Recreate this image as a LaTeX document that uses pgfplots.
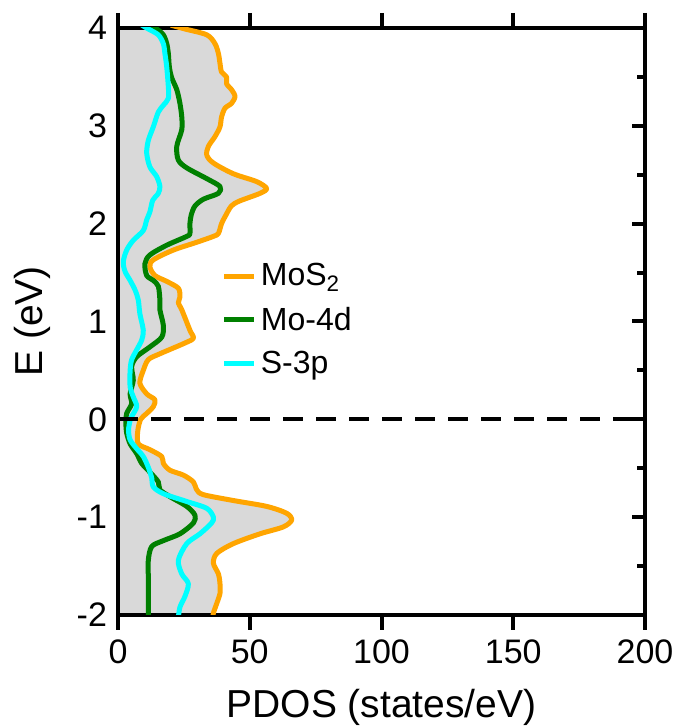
\documentclass[border=0pt]{standalone}
\usepackage{fontspec}
\setmainfont{Liberation Sans}
\usepackage{pgfplots}
\usepackage{pgfplotstable}
\usepgfplotslibrary{fillbetween}
\pgfplotsset{compat=1.18}
\definecolor{dosorange}{RGB}{255,165,0}
\definecolor{dosgreen}{RGB}{0,128,0}
\definecolor{doscyan}{RGB}{0,255,255}

\pgfplotstableread{
x E
36.0 -2.03
36.2 -1.98
37.5 -1.88
38.7 -1.78
38.7 -1.68
38.1 -1.58
36.2 -1.47
37.5 -1.37
43.8 -1.27
53.9 -1.17
62.7 -1.10
65.9 -1.03
64.0 -0.96
56.4 -0.89
43.8 -0.83
32.4 -0.77
29.9 -0.72
28.6 -0.64
24.8 -0.57
19.7 -0.52
17.2 -0.45
16.6 -0.38
12.1 -0.31
7.7 -0.25
7.5 -0.12
8.6 0.00
10.9 0.06
13.4 0.13
14.0 0.20
10.9 0.26
8.3 0.37
9.6 0.50
11.5 0.61
15.9 0.67
25.4 0.78
28.6 0.83
27.3 0.91
24.2 1.12
22.9 1.19
23.5 1.25
22.9 1.34
18.5 1.41
14.0 1.47
12.1 1.56
13.4 1.63
21.0 1.73
29.9 1.81
36.2 1.87
38.1 1.90
39.3 2.00
41.0 2.09
43.0 2.18
46.0 2.23
53.9 2.31
56.4 2.36
52.6 2.43
43.8 2.51
36.2 2.62
33.7 2.70
34.3 2.79
36.8 2.89
38.7 2.99
39.3 3.09
40.6 3.18
43.1 3.23
44.4 3.30
43.1 3.37
41.2 3.43
41.2 3.50
39.3 3.55
38.7 3.64
38.1 3.74
36.8 3.84
33.7 3.93
25.4 3.99
20.0 4.03
}\mos

\pgfplotstableread{
x E
11.5 -2.03
11.5 -1.81
11.5 -1.61
11.5 -1.44
12.8 -1.30
17.2 -1.24
23.5 -1.17
28.6 -1.06
29.2 -0.98
26.1 -0.89
19.7 -0.79
15.9 -0.72
15.3 -0.64
12.1 -0.54
9.0 -0.45
7.1 -0.35
4.6 -0.25
3.3 -0.14
3.0 -0.05
3.3 0.06
5.2 0.16
4.6 0.26
5.8 0.40
5.2 0.54
7.1 0.64
12.1 0.74
16.6 0.84
17.2 0.96
15.9 1.12
15.9 1.22
15.3 1.36
13.4 1.42
10.9 1.47
10.2 1.59
12.1 1.68
18.5 1.78
26.1 1.87
27.3 1.90
27.3 2.00
27.8 2.09
29.2 2.18
32.4 2.25
38.1 2.31
38.7 2.38
33.7 2.46
26.1 2.57
22.9 2.65
22.3 2.79
24.2 2.96
24.2 3.09
23.5 3.23
22.3 3.37
20.4 3.49
19.5 3.60
19.1 3.74
18.5 3.84
17.2 3.93
14.7 3.99
12.0 4.03
}\mod

\pgfplotstableread{
x E
22.9 -2.03
23.5 -1.92
25.4 -1.81
26.7 -1.68
24.2 -1.58
22.9 -1.44
26.1 -1.27
31.1 -1.17
35.5 -1.06
36.2 -1.00
33.7 -0.91
26.1 -0.84
17.2 -0.76
13.4 -0.69
12.8 -0.60
11.5 -0.49
9.6 -0.38
7.1 -0.30
4.6 -0.21
4.0 -0.11
4.6 -0.01
5.2 0.03
7.1 0.13
5.8 0.23
4.6 0.33
4.6 0.50
5.2 0.61
7.1 0.71
9.0 0.81
9.6 0.91
8.3 1.08
7.7 1.22
6.5 1.32
4.6 1.42
2.7 1.51
2.0 1.61
3.3 1.73
5.8 1.83
9.6 1.93
10.9 2.04
12.1 2.12
13.2 2.24
15.3 2.31
15.9 2.38
14.7 2.48
12.1 2.58
10.9 2.72
11.5 2.85
13.4 2.99
15.3 3.14
17.2 3.21
19.1 3.28
19.1 3.40
18.5 3.60
17.8 3.74
17.2 3.84
15.3 3.93
11.5 3.99
9.0 4.03
}\sp

\pgfplotstableread{
x E
0 -2.03
0 4.03
}\zeroline

\pgfplotstableread{
x E
0 0
200 0
}\fermi

\pgfplotsset{
  dosframe/.style={
    scale only axis,
    width=263.5pt, height=293.5pt,
    xmin=0, xmax=200, ymin=-2, ymax=4,
    axis line style={line width=2pt},
    every tick/.style={black, line width=2pt},
  },
}

\begin{document}
\begin{tikzpicture}
% outward x ticks (top and bottom)
\begin{axis}[
  dosframe,
  tick align=outside,
  major tick length=7.5pt,
  xtick={0,50,100,150,200},
  xticklabels={},
  ytick=\empty,
]
\end{axis}
\begin{axis}[
  dosframe,
  xtick={0,50,100,150,200},
  ytick={-2,-1,0,1,2,3,4},
  minor ytick={-1.5,-0.5,0.5,1.5,2.5,3.5},
  tick align=inside,
  major tick length=6.5pt,
  minor tick length=4pt,
  major x tick style={draw=none},
  /pgf/number format/assume math mode=true,
  tick label style={font=\fontsize{17}{17}\selectfont},
  xticklabel style={yshift=-9pt},
  yticklabel style={xshift=-2pt},
  xlabel={PDOS (states/eV)},
  ylabel={E (eV)},
  every axis x label/.style={at={(axis description cs:0.5,0)}, yshift=-46pt, anchor=center, font=\fontsize{19.5}{19.5}\selectfont},
  every axis y label/.style={at={(axis description cs:0,0.5)}, xshift=-43pt, rotate=90, anchor=center, font=\fontsize{19.5}{19.5}\selectfont},
  legend style={at={(axis description cs:0.185,0.613)}, anchor=north west, draw=none, fill=none,
    font=\fontsize{16}{16}\selectfont, row sep=5pt},
  legend cell align=left,
  legend image code/.code={\draw[#1, line width=2.5pt] (0pt,0pt) -- (15pt,0pt);},
]
\addplot[name path=mosA, draw=none, smooth, forget plot] table[x=x, y=E] {\mos};
\addplot[name path=zeroB, draw=none, forget plot] table[x=x, y=E] {\zeroline};
\addplot[black!15, forget plot] fill between[of=mosA and zeroB];
\addplot[dosorange, line width=2.5pt, smooth, line join=round] table[x=x, y=E] {\mos};
\addlegendentry{MoS\textsubscript{2}}
\addplot[dosgreen, line width=2.5pt, smooth, line join=round] table[x=x, y=E] {\mod};
\addlegendentry{Mo-4d}
\addplot[doscyan, line width=2.5pt, smooth, line join=round] table[x=x, y=E] {\sp};
\addlegendentry{S-3p}
\addplot[black, line width=2pt, dash pattern=on 10pt off 6.5pt, forget plot] table[x=x, y=E] {\fermi};
\end{axis}
\pgfresetboundingbox
\path ([shift={(-59pt,-56pt)}]current axis.south west) rectangle ([shift={(18.5pt,14pt)}]current axis.north east);
\end{tikzpicture}
\end{document}
